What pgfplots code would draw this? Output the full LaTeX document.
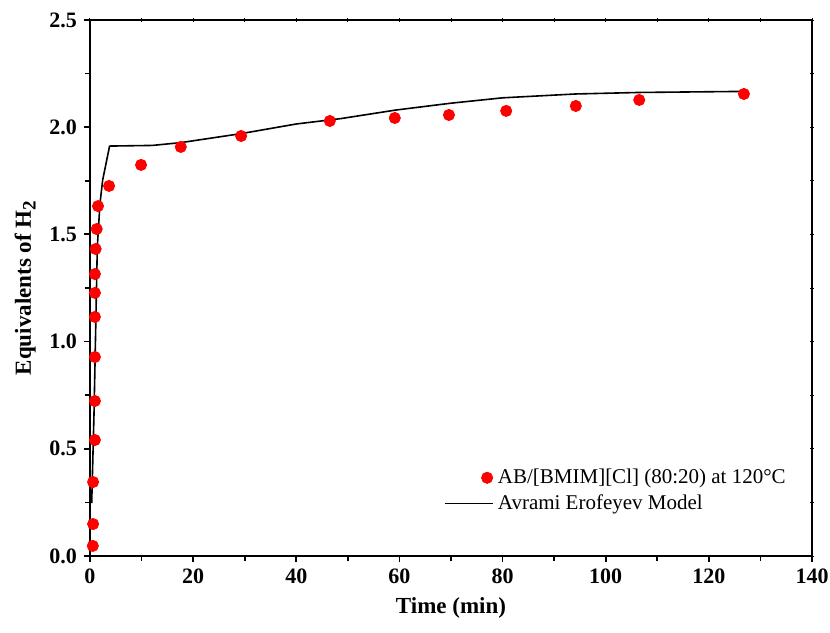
\documentclass[border=0pt]{standalone}
\usepackage{fontspec}
\setmainfont{Liberation Serif}
\usepackage{pgfplots}
\pgfplotsset{compat=1.18}

% measured data (red dots)
\pgfplotstableread{
t     eq
0.55  0.047
0.60  0.149
0.60  0.345
0.95  0.541
0.95  0.723
0.95  0.928
0.95  1.115
0.95  1.227
0.95  1.315
1.10  1.432
1.30  1.525
1.55  1.632
3.7   1.726
9.9   1.824
17.6  1.908
29.3  1.959
46.5  2.029
59.1  2.043
69.6  2.057
80.7  2.076
94.2  2.099
106.5 2.127
126.8 2.155
}\measured

% Avrami-Erofeyev fit
\pgfplotstableread{
t     eq
0.33  0.247
0.78  0.666
1.10  1.054
1.42  1.443
1.94  1.645
2.46  1.754
3.80  1.912
12.1  1.915
17.6  1.928
29.3  1.970
40.0  2.015
48.6  2.040
59.3  2.080
70.0  2.112
80.0  2.137
94.2  2.155
106.5 2.162
126.8 2.167
}\fitted

\pgfplotsset{
  scatleg/.style={legend image code/.code={\draw[##1] plot coordinates {(19pt,0pt)};}},
  lineleg/.style={legend image code/.code={\draw[##1] (-2pt,0pt) -- (22pt,0pt);}},
  common/.style={
    scale only axis, width=361pt, height=268pt,
    at={(0,0)}, anchor=south west,
    xmin=0, xmax=140, ymin=0, ymax=2.5,
    xtick distance=20, ytick distance=0.5,
    minor x tick num=1, minor y tick num=1,
    axis line style={line width=1pt},
  }
}

\begin{document}
\begin{tikzpicture}
% thin ticks on top and right
\begin{axis}[common,
  xtick pos=right, ytick pos=right,
  xticklabels={}, yticklabels={},
  tick align=center,
  major tick length=1.6pt, minor tick length=1.6pt,
  every tick/.style={black, line width=0.5pt},
]
\end{axis}
\begin{axis}[common,
  xtick pos=left, ytick pos=left,
  tick align=outside,
  major tick length=3pt, minor tick length=2.5pt,
  every tick/.style={black, line width=0.9pt},
  /pgf/number format/assume math mode=true,
  tick label style={font=\fontsize{11}{13}\selectfont\bfseries},
  yticklabel style={/pgf/number format/.cd, fixed, fixed zerofill, precision=1},
  xticklabel style={/pgf/number format/.cd, fixed, precision=0},
  xlabel={Time (min)},
  ylabel={Equivalents of H\raisebox{-0.45ex}{\fontsize{9.5}{10}\selectfont 2}},
  label style={font=\fontsize{11.5}{13}\selectfont\bfseries},
  legend style={draw=none, fill=none, at={(0.978,0.178)}, anchor=north east,
    font=\fontsize{10.5}{13}\selectfont, row sep=0pt},
  legend cell align=left,
]
\addplot[only marks, mark=*, mark size=2.8pt, color=red, scatleg]
  table[x=t, y=eq] {\measured};
\addlegendentry{AB/[BMIM][Cl] (80:20) at 120°C}
\addplot[black, line width=0.8pt, no marks, lineleg]
  table[x=t, y=eq] {\fitted};
\addlegendentry{Avrami Erofeyev Model}
\end{axis}
\pgfresetboundingbox
\path[use as bounding box] (-45pt,-38pt) rectangle (370pt,278pt);
\end{tikzpicture}
\end{document}
